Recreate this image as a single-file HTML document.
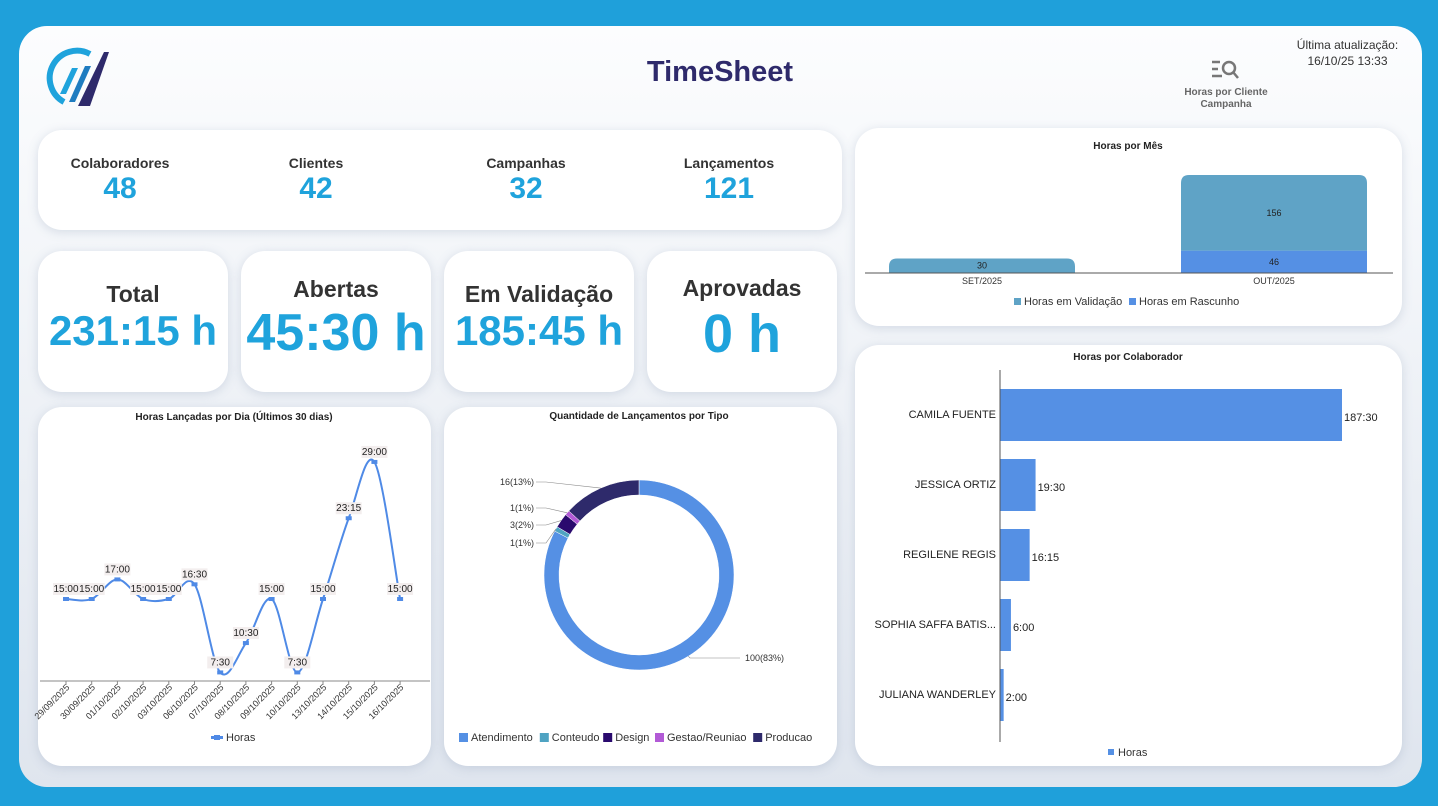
<!DOCTYPE html>
<html><head><meta charset="utf-8">
<style>
*{margin:0;padding:0;box-sizing:border-box}
body{width:1438px;height:806px;background:#1fa0da;font-family:"Liberation Sans",sans-serif;position:relative;overflow:hidden}
#panel{position:absolute;left:19px;top:26px;width:1403px;height:761px;border-radius:28px;background:linear-gradient(#fcfdfe,#dfe5ee)}
.card{position:absolute;background:#fff;border-radius:24px;box-shadow:0 2px 10px rgba(120,140,170,.25)}
.abs{position:absolute}
.kl{position:absolute;font-size:14px;font-weight:bold;color:#333;text-align:center;width:160px}
.kv{position:absolute;font-size:30px;font-weight:bold;color:#1fa3dc;text-align:center;width:160px}
.bt{position:absolute;left:0;width:100%;text-align:center;font-weight:bold;color:#333;font-size:23px}
.bv{position:absolute;left:0;width:100%;text-align:center;font-weight:bold;color:#1fa3dc}
svg text{font-family:"Liberation Sans",sans-serif}
</style></head><body>
<div id="panel"></div>
<svg class="abs" style="left:42px;top:44px" width="70" height="66">
<path d="M22,58 A26,26 0 1 1 48,10" fill="none" stroke="#1fa3dc" stroke-width="6"/>
<path d="M18,50 L30,24 L36,24 L24,50Z" fill="#1fa3dc"/>
<path d="M27,58 L43,22 L49,22 L33,58Z" fill="#1e7cc0"/>
<path d="M36,62 L62,8 L67,8 L48,62Z" fill="#2e2a6b"/>
</svg>
<div class="abs" style="left:620px;top:56px;width:200px;text-align:center;font-size:29px;font-weight:bold;color:#2e2a6b">TimeSheet</div>
<div class="abs" style="left:1180px;top:58px;width:92px;text-align:center">
<svg width="32" height="24"><g stroke="#777" stroke-width="2.5" fill="none"><line x1="2" y1="4" x2="10" y2="4"/><line x1="2" y1="11" x2="8" y2="11"/><line x1="2" y1="18" x2="12" y2="18"/><circle cx="19" cy="10" r="6"/><line x1="23" y1="14" x2="28" y2="20"/></g></svg>
<div style="font-size:10px;font-weight:bold;color:#666;line-height:12px">Horas por Cliente Campanha</div></div>
<div class="abs" style="left:1285px;top:37px;width:125px;text-align:center;font-size:12px;color:#333;line-height:16px">Última atualização:<br>16/10/25 13:33</div>

<div class="card" style="left:38px;top:130px;width:804px;height:100px">
<div class="kl" style="left:2px;top:25px">Colaboradores</div><div class="kv" style="left:2px;top:42px">48</div>
<div class="kl" style="left:198px;top:25px">Clientes</div><div class="kv" style="left:198px;top:42px">42</div>
<div class="kl" style="left:408px;top:25px">Campanhas</div><div class="kv" style="left:408px;top:42px">32</div>
<div class="kl" style="left:611px;top:25px">Lançamentos</div><div class="kv" style="left:611px;top:42px">121</div>
</div>
<div class="card" style="left:38px;top:251px;width:190px;height:141px"><div class="bt" style="top:30px">Total</div><div class="bv" style="top:56px;font-size:42px">231:15 h</div></div>
<div class="card" style="left:241px;top:251px;width:190px;height:141px"><div class="bt" style="top:25px">Abertas</div><div class="bv" style="top:52px;font-size:52px">45:30 h</div></div>
<div class="card" style="left:444px;top:251px;width:190px;height:141px"><div class="bt" style="top:30px">Em Validação</div><div class="bv" style="top:56px;font-size:42px">185:45 h</div></div>
<div class="card" style="left:647px;top:251px;width:190px;height:141px"><div class="bt" style="top:24px">Aprovadas</div><div class="bv" style="top:52px;font-size:54px">0 h</div></div>

<div class="card" style="left:38px;top:407px;width:393px;height:359px"></div>
<div class="card" style="left:444px;top:407px;width:393px;height:359px"></div>
<div class="card" style="left:855px;top:128px;width:547px;height:198px"></div>
<div class="card" style="left:855px;top:345px;width:547px;height:421px"></div>

<svg class="abs" style="left:0;top:0" width="1438" height="806" id="charts">
<text x="234" y="420" font-size="10" font-weight="bold" text-anchor="middle" fill="#222">Horas Lançadas por Dia (Últimos 30 dias)</text>
<text x="639" y="419" font-size="10" font-weight="bold" text-anchor="middle" fill="#222">Quantidade de Lançamentos por Tipo</text>
<text x="1128" y="149" font-size="10" font-weight="bold" text-anchor="middle" fill="#222">Horas por Mês</text>
<text x="1128" y="360" font-size="10" font-weight="bold" text-anchor="middle" fill="#222">Horas por Colaborador</text>
<g id="line"></g><g id="donut"></g><g id="month"></g><g id="collab"></g>
</svg>
<script>
const dayLabels=["29/09/2025","30/09/2025","01/10/2025","02/10/2025","03/10/2025","06/10/2025","07/10/2025","08/10/2025","09/10/2025","10/10/2025","13/10/2025","14/10/2025","15/10/2025","16/10/2025"];
const dayHours=[15,15,17,15,15,16.5,7.5,10.5,15,7.5,15,23.25,29,15];
const dayText=["15:00","15:00","17:00","15:00","15:00","16:30","7:30","10:30","15:00","7:30","15:00","23:15","29:00","15:00"];
const typeNames=["Atendimento","Conteudo","Design","Gestao/Reuniao","Producao"];
const typeCounts=[100,1,3,1,16];
const typeColors=["#5590e4","#4fa3c2","#2a0a6e","#b25ad6","#2e2a6b"];
const months=["SET/2025","OUT/2025"];
const monthValid=[30,156];
const monthDraft=[0,46];
const collabNames=["CAMILA FUENTE","JESSICA ORTIZ","REGILENE REGIS","SOPHIA SAFFA BATIS...","JULIANA WANDERLEY"];
const collabHours=[187.5,19.5,16.25,6,2];
const collabText=["187:30","19:30","16:15","6:00","2:00"];
const NS="http://www.w3.org/2000/svg";
function mk(p,t,a){const e=document.createElementNS(NS,t);for(const k in a)e.setAttribute(k,a[k]);p.appendChild(e);return e;}
// line chart
const L=document.getElementById('line');
const lx=i=>66+i*25.7, ly=v=>599-(v-15)*9.79;
let a=mk(L,'line',{x1:40,x2:430,y1:681,y2:681,stroke:'#888'});

const pts=dayHours.map((v,i)=>[lx(i),ly(v)]);
let d=`M${pts[0][0]},${pts[0][1]}`;
for(let i=0;i<pts.length-1;i++){const p0=pts[Math.max(0,i-1)],p1=pts[i],p2=pts[i+1],p3=pts[Math.min(pts.length-1,i+2)];
d+=` C${p1[0]+(p2[0]-p0[0])/6},${p1[1]+(p2[1]-p0[1])/6} ${p2[0]-(p3[0]-p1[0])/6},${p2[1]-(p3[1]-p1[1])/6} ${p2[0]},${p2[1]}`;}
let ln=mk(L,'path',{d:d,fill:'none',stroke:'#4f8ae6','stroke-width':2});

dayHours.forEach((v,i)=>{const x=lx(i),y=ly(v);
let m=mk(L,'rect',{x:x-3,y:y-2,width:6,height:4,fill:'#4f8ae6'});

mk(L,'rect',{x:x-13,y:y-16,width:26,height:12,fill:'#f3eeee'});
let t=mk(L,'text',{x:x,y:y-7,'font-size':10,'text-anchor':'middle',fill:'#222'});t.textContent=dayText[i];

mk(L,'line',{x1:x,x2:x,y1:681,y2:685,stroke:'#888'});
let tl=mk(L,'text',{x:x+4,y:688,'font-size':9,'text-anchor':'end',fill:'#333',transform:`rotate(-45 ${x+4} 688)`});tl.textContent=dayLabels[i];
});
mk(L,'rect',{x:211,y:736,width:12,height:3,fill:'#4f8ae6'});mk(L,'rect',{x:214,y:735,width:6,height:5,fill:'#4f8ae6'});
let lg=mk(L,'text',{x:226,y:741,'font-size':11,fill:'#333'});lg.textContent='Horas';

// donut
const D=document.getElementById('donut');const cx=639,cy=575,R=95,r=80;
const tot=typeCounts.reduce((s,v)=>s+v,0);let ang=0;
const lblY=[658,543,525,508,482];
typeCounts.forEach((v,i)=>{const a0=ang,a1=ang+v/tot*2*Math.PI;ang=a1;
const P=(rr,t)=>[cx+rr*Math.sin(t),cy-rr*Math.cos(t)];const lg=(a1-a0)>Math.PI?1:0;
const [x0,y0]=P(R,a0),[x1,y1]=P(R,a1),[x2,y2]=P(r,a1),[x3,y3]=P(r,a0);
let s=mk(D,'path',{d:`M${x0},${y0}A${R},${R} 0 ${lg} 1 ${x1},${y1}L${x2},${y2}A${r},${r} 0 ${lg} 0 ${x3},${y3}Z`,fill:typeColors[i],stroke:'#fff','stroke-width':0.5});

const mid=(a0+a1)/2;const [mx,my]=P(R,mid);const pct=Math.round(v/tot*100);
const left=Math.sin(mid)<0;const ex=left?536:740;
mk(D,'polyline',{points:`${mx},${my} ${left?ex+10:ex-50},${lblY[i]} ${ex},${lblY[i]}`,fill:'none',stroke:'#888','stroke-width':0.6});
let t=mk(D,'text',{x:left?ex-2:ex+5,y:lblY[i]+3,'font-size':9,'text-anchor':left?'end':'start',fill:'#333'});t.textContent=`${v}(${pct}%)`;
});
let lx0=459;typeNames.forEach((n,i)=>{let g=mk(D,'g',{});
mk(g,'rect',{x:lx0,y:733,width:9,height:9,fill:typeColors[i]});
let t=mk(g,'text',{x:lx0+12,y:741,'font-size':11,fill:'#333'});t.textContent=n;lx0+=12+n.length*5.8+5;});
// monthly
const M=document.getElementById('month');const mb=273,ms=0.485;const mcx=[982,1274];
months.forEach((m,i)=>{const vh=monthValid[i]*ms,dh=monthDraft[i]*ms;
let b=mk(M,'path',{d:`M${mcx[i]-93},${mb-dh}V${mb-dh-vh+8}Q${mcx[i]-93},${mb-dh-vh} ${mcx[i]-85},${mb-dh-vh}H${mcx[i]+85}Q${mcx[i]+93},${mb-dh-vh} ${mcx[i]+93},${mb-dh-vh+8}V${mb-dh}Z`,fill:'#5fa3c6'});

let t=mk(M,'text',{x:mcx[i],y:mb-dh-vh/2+3,'font-size':9,'text-anchor':'middle',fill:'#222'});t.textContent=monthValid[i];
if(dh>0){let b2=mk(M,'rect',{x:mcx[i]-93,y:mb-dh,width:186,height:dh,fill:'#5590e4'});
let t2=mk(M,'text',{x:mcx[i],y:mb-dh/2+3,'font-size':9,'text-anchor':'middle',fill:'#222'});t2.textContent=monthDraft[i];}
let xl=mk(M,'text',{x:mcx[i],y:284,'font-size':9,'text-anchor':'middle',fill:'#333'});xl.textContent=m;});
mk(M,'line',{x1:865,x2:1393,y1:mb,y2:mb,stroke:'#555'});
mk(M,'rect',{x:1014,y:298,width:7,height:7,fill:'#5fa3c6'});
let t1=mk(M,'text',{x:1024,y:305,'font-size':11,fill:'#333'});t1.textContent='Horas em Validação';
mk(M,'rect',{x:1129,y:298,width:7,height:7,fill:'#5590e4'});
let t3=mk(M,'text',{x:1139,y:305,'font-size':11,fill:'#333'});t3.textContent='Horas em Rascunho';
// collaborator
const C=document.getElementById('collab');const cx0=1000,cs=1.824;
collabHours.forEach((v,i)=>{const y=415+i*70;
let b=mk(C,'rect',{x:cx0,y:y-26,width:v*cs,height:52,fill:'#5590e4'});
let n=mk(C,'text',{x:cx0-4,y:y+3,'font-size':11,'text-anchor':'end',fill:'#222'});n.textContent=collabNames[i];
let t=mk(C,'text',{x:cx0+v*cs+2,y:y+6,'font-size':11,fill:'#222'});t.textContent=collabText[i];});
mk(C,'line',{x1:cx0,x2:cx0,y1:370,y2:742,stroke:'#555'});
mk(C,'rect',{x:1108,y:749,width:6,height:6,fill:'#5590e4'});
let tc=mk(C,'text',{x:1118,y:756,'font-size':11,fill:'#333'});tc.textContent='Horas';
</script>
</body></html>
